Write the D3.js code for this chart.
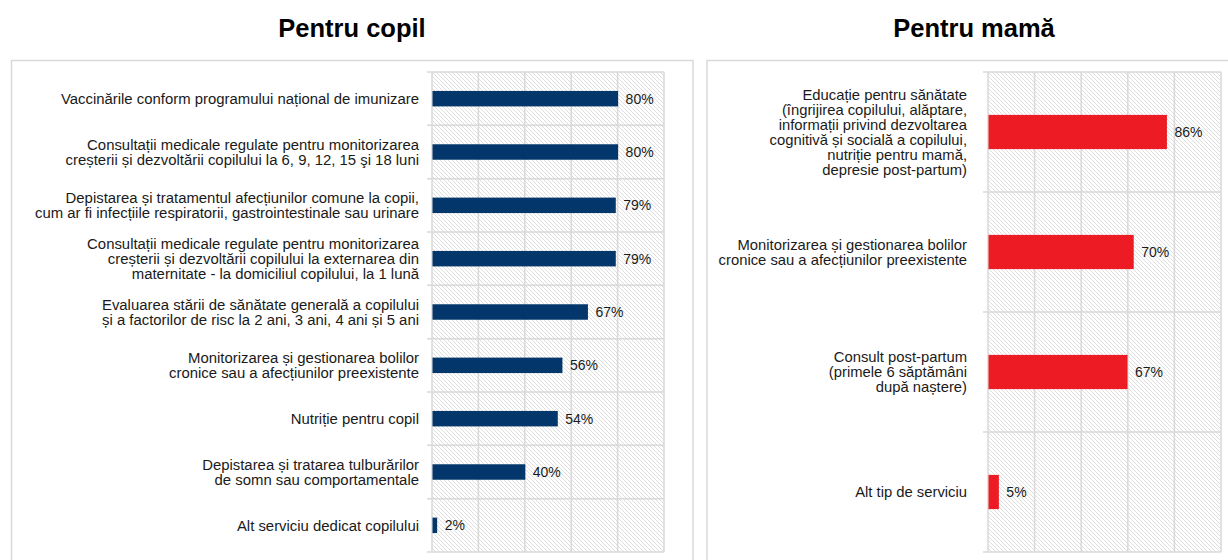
<!DOCTYPE html>
<html>
<head>
<meta charset="utf-8">
<script src="https://cdn.jsdelivr.net/npm/d3@7/dist/d3.min.js"></script>
<style>
  html, body { margin: 0; padding: 0; background: #fff; }
  svg { display: block; font-family: "Liberation Sans", Arial, sans-serif; }
</style>
</head>
<body>
<svg id="chart" width="1228" height="560"></svg>
<script>
// Services wanted for the child
const childCategories = [
  ["Vaccinările conform programului național de imunizare"],
  ["Consultații medicale regulate pentru monitorizarea", "creșterii și dezvoltării copilului la 6, 9, 12, 15 şi 18 luni"],
  ["Depistarea și tratamentul afecțiunilor comune la copii,", "cum ar fi infecțiile respiratorii, gastrointestinale sau urinare"],
  ["Consultații medicale regulate pentru monitorizarea", "creșterii și dezvoltării copilului la externarea din", "maternitate - la domiciliul copilului, la 1 lună"],
  ["Evaluarea stării de sănătate generală a copilului", "și a factorilor de risc la 2 ani, 3 ani, 4 ani și 5 ani"],
  ["Monitorizarea și gestionarea bolilor", "cronice sau a afecțiunilor preexistente"],
  ["Nutriție pentru copil"],
  ["Depistarea și tratarea tulburărilor", "de somn sau comportamentale"],
  ["Alt serviciu dedicat copilului"]
];
const childValues = [0.80, 0.80, 0.79, 0.79, 0.67, 0.56, 0.54, 0.40, 0.02];

// Services wanted for the mother
const motherCategories = [
  ["Educație pentru sănătate", "(îngrijirea copilului, alăptare,", "informații privind dezvoltarea", "cognitivă și socială a copilului,", "nutriție pentru mamă,", "depresie post-partum)"],
  ["Monitorizarea și gestionarea bolilor", "cronice sau a afecțiunilor preexistente"],
  ["Consult post-partum", "(primele 6 săptămâni", "după naștere)"],
  ["Alt tip de serviciu"]
];
const motherValues = [0.86, 0.70, 0.67, 0.05];

const panelTitles = ["Pentru copil", "Pentru mamă"];
const axisMax = [1.0, 1.123];

const svg = d3.select("#chart");
const grid = "#d9d9d9";

// diagonal hatch used as plot background
const defs = svg.append("defs");
const pat = defs.append("pattern")
  .attr("id", "hatch").attr("patternUnits", "userSpaceOnUse")
  .attr("width", 4).attr("height", 4);
pat.append("rect").attr("width", 4).attr("height", 4).attr("fill", "#fff");
pat.append("path")
  .attr("d", "M-1,-1 L5,5 M-1,3 L1,5 M3,-1 L5,1")
  .attr("stroke", "#dedede").attr("stroke-width", 1);

function panel(cfg) {
  const g = svg.append("g");

  // outer frame
  g.append("rect")
    .attr("x", cfg.box[0]).attr("y", cfg.box[1])
    .attr("width", cfg.box[2]).attr("height", cfg.box[3])
    .attr("fill", "none").attr("stroke", grid).attr("stroke-width", 1.5);

  g.append("text")
    .attr("x", cfg.titleX).attr("y", 37)
    .attr("text-anchor", "middle")
    .attr("font-size", 25.5).attr("font-weight", "bold").attr("fill", "#000")
    .text(cfg.title);

  const x = d3.scaleLinear().domain([0, cfg.max]).range([cfg.left, cfg.right]);
  const y = d3.scaleBand().domain(d3.range(cfg.values.length)).range([cfg.top, cfg.bottom]);
  const bw = y.bandwidth() * cfg.barFrac;

  g.append("rect")
    .attr("x", cfg.left).attr("y", cfg.top)
    .attr("width", cfg.right - cfg.left).attr("height", cfg.bottom - cfg.top)
    .attr("fill", "url(#hatch)");

  // vertical gridlines at five equal steps
  const ticks = d3.range(0, 6).map(i => cfg.max * i / 5);
  g.selectAll(".vg").data(ticks).join("line")
    .attr("x1", d => x(d)).attr("x2", d => x(d))
    .attr("y1", cfg.top).attr("y2", cfg.bottom)
    .attr("stroke", grid).attr("stroke-width", 1.5);

  // category boundaries with small outward ticks
  const bounds = d3.range(cfg.values.length + 1).map(i => cfg.top + i * y.step());
  g.selectAll(".hg").data(bounds).join("line")
    .attr("x1", cfg.left - 5).attr("x2", cfg.right)
    .attr("y1", d => d).attr("y2", d => d)
    .attr("stroke", grid).attr("stroke-width", 1.5);

  g.selectAll(".bar").data(cfg.values).join("rect")
    .attr("x", x(0) + 0.5)
    .attr("y", (d, i) => y(i) + (y.bandwidth() - bw) / 2)
    .attr("width", d => x(d) - x(0))
    .attr("height", bw)
    .attr("fill", cfg.color);

  g.selectAll(".val").data(cfg.values).join("text")
    .attr("x", d => x(d) + 8)
    .attr("y", (d, i) => y(i) + y.bandwidth() / 2)
    .attr("dy", "0.36em")
    .attr("font-size", 14).attr("fill", "#1a1a1a")
    .text(d => Math.round(d * 100) + "%");

  const lh = 15;
  cfg.categories.forEach((lines, i) => {
    const cy = y(i) + y.bandwidth() / 2;
    const t = g.append("text")
      .attr("text-anchor", "end")
      .attr("font-size", cfg.labelSize).attr("fill", "#1a1a1a");
    lines.forEach((ln, k) => {
      t.append("tspan")
        .attr("x", cfg.labelX)
        .attr("y", cy + (k - (lines.length - 1) / 2) * lh)
        .attr("dy", "0.35em")
        .text(ln);
    });
  });
}

panel({
  title: panelTitles[0], titleX: 352,
  box: [11.5, 60.5, 681.5, 520],
  left: 432, right: 664, top: 72, bottom: 552,
  max: axisMax[0], values: childValues, categories: childCategories,
  barFrac: 0.29, color: "#03376b", labelX: 419, labelSize: 14.9
});

panel({
  title: panelTitles[1], titleX: 974,
  box: [707, 60.5, 540, 520],
  left: 988, right: 1221, top: 72, bottom: 552,
  max: axisMax[1], values: motherValues, categories: motherCategories,
  barFrac: 0.285, color: "#ed1c24", labelX: 967, labelSize: 14.8
});
</script>
</body>
</html>
